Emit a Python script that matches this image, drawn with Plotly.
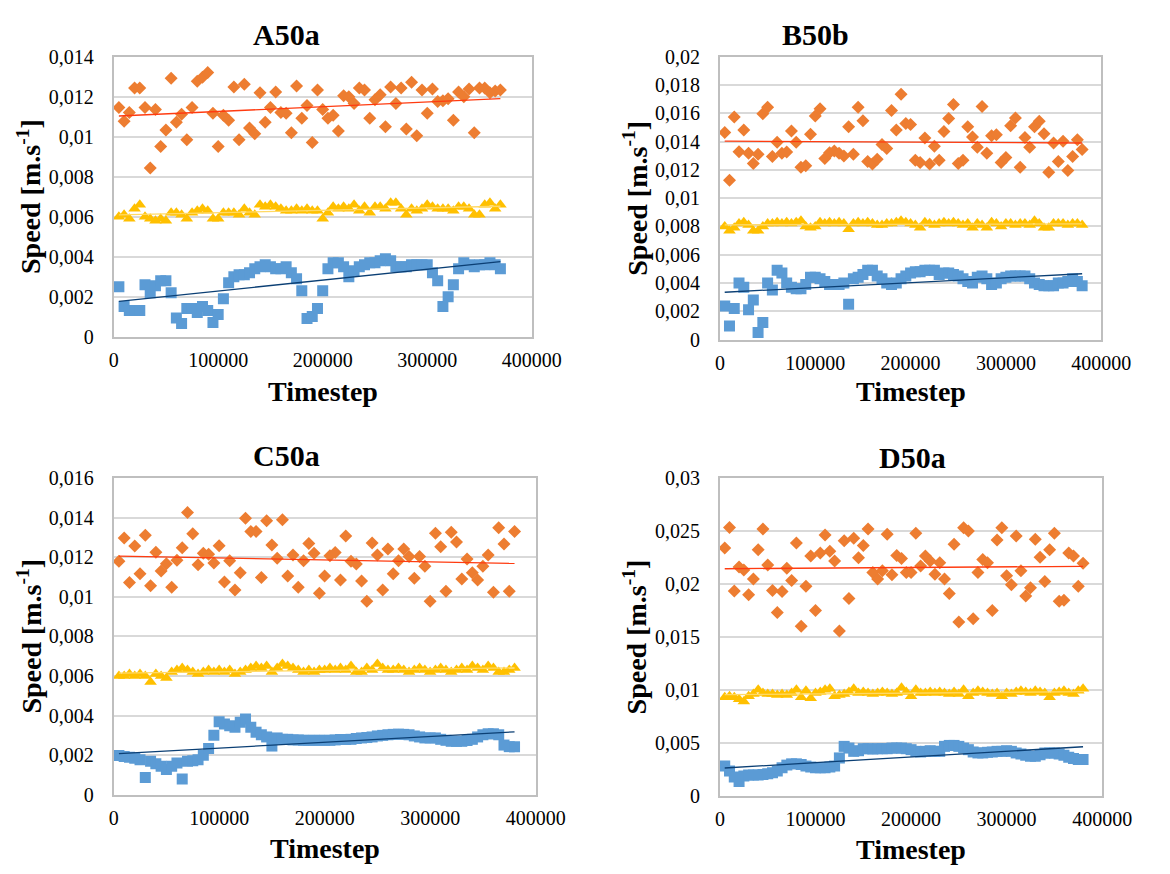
import numpy as np
import plotly.graph_objects as go

# ---------------- data ----------------
t_A = list(range(5000, 370001, 5000))
t_BCD = list(range(5000, 380001, 5000))

A_orange = [0.01146, 0.01078, 0.01122, 0.01244, 0.01244, 0.01146, 0.00844, 0.01137, 0.00951, 0.01034,
            0.01293, 0.01073, 0.01112, 0.00985, 0.01146, 0.01278, 0.01298, 0.01322, 0.01117, 0.00951,
            0.01107, 0.01083, 0.01249, 0.00985, 0.01263, 0.01044, 0.01015, 0.01220, 0.01073, 0.01146,
            0.01224, 0.01122, 0.01117, 0.01020, 0.01254, 0.01093, 0.01156, 0.00971, 0.01234, 0.01137,
            0.01093, 0.01107, 0.01029, 0.01205, 0.01200, 0.01166, 0.01244, 0.01234, 0.01093, 0.01185,
            0.01210, 0.01050, 0.01249, 0.01166, 0.01244, 0.01039, 0.01273, 0.01005, 0.01234, 0.01117,
            0.01239, 0.01176, 0.01180, 0.01190, 0.01083, 0.01224, 0.01200, 0.01239, 0.01020, 0.01244,
            0.01244, 0.01220, 0.01229, 0.01234]
A_yellow = [0.0060, 0.0061, 0.0059, 0.0064, 0.0066, 0.0060, 0.0059, 0.0058, 0.0059, 0.0058,
            0.0062, 0.0062, 0.0061, 0.0059, 0.0062, 0.0063, 0.0064, 0.0063, 0.0059, 0.0059,
            0.0062, 0.0062, 0.0062, 0.0061, 0.0064, 0.0062, 0.0061, 0.0066, 0.0065, 0.0066,
            0.0065, 0.0064, 0.0063, 0.0063, 0.0064, 0.0063, 0.0064, 0.0063, 0.0063, 0.0059,
            0.0062, 0.0065, 0.0064, 0.0065, 0.0064, 0.0066, 0.0063, 0.0065, 0.0062, 0.0065,
            0.0065, 0.0064, 0.0067, 0.0067, 0.0064, 0.0061, 0.0064, 0.0063, 0.0064, 0.0066,
            0.0065, 0.0064, 0.0064, 0.0064, 0.0063, 0.0065, 0.0065, 0.0064, 0.0061, 0.0061,
            0.0066, 0.0067, 0.0064, 0.0066]
A_blue = [0.0025, 0.0015, 0.0013, 0.0013, 0.0013, 0.0026, 0.0022, 0.00255, 0.0028, 0.0028,
          0.0022, 0.00093, 0.00065, 0.0014, 0.0014, 0.0012, 0.0015, 0.0013, 0.0007, 0.0011,
          0.0019, 0.0027, 0.0030, 0.0031, 0.0031, 0.0032, 0.0034, 0.0035, 0.0036, 0.0035,
          0.0034, 0.0034, 0.0035, 0.0032, 0.0029, 0.0023, 0.0009, 0.0010, 0.0014, 0.0023,
          0.0034, 0.0037, 0.0037, 0.0035, 0.0030, 0.0033, 0.0035, 0.0036, 0.0037, 0.0037,
          0.0038, 0.0039, 0.0038, 0.0035, 0.0035, 0.0035, 0.0036, 0.0036, 0.0036, 0.0036,
          0.0032, 0.0028, 0.0015, 0.0020, 0.0026, 0.0034, 0.0037, 0.0036, 0.0035, 0.0036,
          0.0036, 0.0037, 0.0036, 0.0034]

B_orange = [0.01464, 0.01126, 0.01575, 0.01329, 0.01483, 0.01317, 0.01246, 0.01310, 0.01598, 0.01644,
            0.01294, 0.01395, 0.01317, 0.01326, 0.01476, 0.01395, 0.01218, 0.01230, 0.01453, 0.01582,
            0.01632, 0.01280, 0.01322, 0.01333, 0.01317, 0.01299, 0.01506, 0.01310, 0.01644, 0.01547,
            0.01260, 0.01241, 0.01276, 0.01379, 0.01352, 0.01621, 0.01483, 0.01736, 0.01529, 0.01522,
            0.01269, 0.01253, 0.01425, 0.01241, 0.01368, 0.01269, 0.01471, 0.01563, 0.01662, 0.01246,
            0.01269, 0.01506, 0.01432, 0.01361, 0.01648, 0.01317, 0.01441, 0.01448, 0.01253, 0.01287,
            0.01513, 0.01568, 0.01218, 0.01430, 0.01361, 0.01506, 0.01545, 0.01455, 0.01184, 0.01391,
            0.01260, 0.01402, 0.01195, 0.01294, 0.01414, 0.01345]
B_yellow = [0.0080, 0.0077, 0.0079, 0.0082, 0.0083, 0.0081, 0.0077, 0.0077, 0.0080, 0.0082,
            0.0082, 0.0083, 0.0082, 0.0083, 0.0082, 0.0083, 0.0084, 0.0080, 0.0079, 0.0080,
            0.0083, 0.0082, 0.0083, 0.0082, 0.0083, 0.0082, 0.0078, 0.0082, 0.0083, 0.0082,
            0.0083, 0.0082, 0.0081, 0.0081, 0.0082, 0.0082, 0.0083, 0.0084, 0.0083, 0.0082,
            0.0081, 0.0079, 0.0083, 0.0082, 0.0081, 0.0082, 0.0083, 0.0082, 0.0083, 0.0082,
            0.0081, 0.0082, 0.0079, 0.0082, 0.0081, 0.0079, 0.0083, 0.0082, 0.0080, 0.0082,
            0.0082, 0.0081, 0.0082, 0.0082, 0.0081, 0.0084, 0.0082, 0.0079, 0.0079, 0.0082,
            0.0082, 0.0082, 0.0081, 0.0082, 0.0082, 0.0081]
B_blue = [0.00237, 0.00096, 0.0022, 0.0040, 0.0037, 0.0021, 0.0028, 0.0005, 0.0012, 0.0040,
          0.0035, 0.0049, 0.0047, 0.0040, 0.0037, 0.0036, 0.0036, 0.0039, 0.0044, 0.0044,
          0.0043, 0.0041, 0.0039, 0.0039, 0.0039, 0.0040, 0.0025, 0.0043, 0.0044, 0.0046,
          0.0049, 0.0049, 0.0045, 0.0043, 0.0040, 0.0039, 0.0040, 0.0043, 0.0045, 0.0047,
          0.0048, 0.0048, 0.0049, 0.0049, 0.0049, 0.0046, 0.0047, 0.0047, 0.0046, 0.0045,
          0.0043, 0.0041, 0.0040, 0.0044, 0.0045, 0.0043, 0.0039, 0.0040, 0.0043, 0.0044,
          0.0045, 0.0045, 0.0045, 0.0045, 0.0043, 0.0040, 0.0039, 0.0038, 0.0038, 0.0038,
          0.0040, 0.0040, 0.0041, 0.0043, 0.0041, 0.0038]

C_orange = [0.01179, 0.01297, 0.01072, 0.01256, 0.01116, 0.01310, 0.01056, 0.01225, 0.01130, 0.01167,
            0.01048, 0.01184, 0.01248, 0.01425, 0.01318, 0.01162, 0.01220, 0.01215, 0.01170, 0.01257,
            0.01075, 0.01182, 0.01034, 0.01121, 0.01397, 0.01330, 0.01330, 0.01097, 0.01384, 0.01261,
            0.01195, 0.01389, 0.01105, 0.01211, 0.01048, 0.01182, 0.01269, 0.01220, 0.01018, 0.01105,
            0.01207, 0.01223, 0.01085, 0.01307, 0.01179, 0.01166, 0.01080, 0.00977, 0.01272, 0.01211,
            0.01034, 0.01241, 0.01116, 0.01182, 0.01241, 0.01203, 0.01093, 0.01203, 0.01154, 0.00977,
            0.01321, 0.01252, 0.01028, 0.01326, 0.01277, 0.01089, 0.01190, 0.01121, 0.01085, 0.01154,
            0.01211, 0.01023, 0.01348, 0.01266, 0.01028, 0.01330]
C_yellow = [0.0060, 0.0060, 0.0061, 0.0060, 0.0061, 0.0060, 0.0057, 0.0061, 0.0060, 0.0059,
            0.0062, 0.0063, 0.0064, 0.0063, 0.0062, 0.0061, 0.0062, 0.0063, 0.0062, 0.0063,
            0.0062, 0.0063, 0.0061, 0.0062, 0.0063, 0.0064, 0.0065, 0.0064, 0.0065, 0.0062,
            0.0064, 0.0066, 0.0065, 0.0064, 0.0063, 0.0062, 0.0063, 0.0062, 0.0063, 0.0063,
            0.0064, 0.0063, 0.0064, 0.0063, 0.0065, 0.0062, 0.0062, 0.0064, 0.0063, 0.0066,
            0.0064, 0.0063, 0.0063, 0.0064, 0.0063, 0.0062, 0.0063, 0.0064, 0.0063, 0.0062,
            0.0063, 0.0064, 0.0063, 0.0062, 0.0063, 0.0064, 0.0063, 0.0065, 0.0064, 0.0063,
            0.0065, 0.0064, 0.0062, 0.0062, 0.0063, 0.0064]
C_blue = [0.00198, 0.00193, 0.0019, 0.00185, 0.00177, 0.00087, 0.00169, 0.00156, 0.00144, 0.00128,
          0.00144, 0.0016, 0.00079, 0.00169, 0.00172, 0.00177, 0.0020, 0.00234, 0.0030, 0.00369,
          0.00357, 0.00349, 0.00341, 0.00366, 0.00382, 0.00341, 0.00316, 0.00303, 0.00292, 0.00246,
          0.00287, 0.0028, 0.0028, 0.00277, 0.00277, 0.00275, 0.00275, 0.00275, 0.00275, 0.00275,
          0.00275, 0.00277, 0.00279, 0.00279, 0.0028, 0.00284, 0.00287, 0.00289, 0.00292, 0.00297,
          0.0030, 0.00303, 0.00305, 0.00306, 0.00305, 0.00303, 0.00297, 0.00292, 0.00287, 0.00287,
          0.00287, 0.0028, 0.00275, 0.0027, 0.0027, 0.0027, 0.00274, 0.0028, 0.00292, 0.00303,
          0.00308, 0.00308, 0.00303, 0.00251, 0.00243, 0.00243]

D_orange = [0.02338, 0.02532, 0.01932, 0.02160, 0.02132, 0.01898, 0.02046, 0.02323, 0.02517, 0.02178,
            0.01938, 0.01729, 0.01929, 0.02148, 0.02031, 0.02385, 0.01600, 0.01978, 0.02262, 0.01748,
            0.02292, 0.02462, 0.02308, 0.02215, 0.01554, 0.02406, 0.01862, 0.02431, 0.02246, 0.02363,
            0.02517, 0.02108, 0.02046, 0.02123, 0.02468, 0.02086, 0.02268, 0.02240, 0.02108, 0.02108,
            0.02477, 0.02169, 0.02262, 0.02215, 0.02092, 0.02200, 0.02046, 0.01908, 0.02375, 0.01640,
            0.02529, 0.02498, 0.01671, 0.02108, 0.02231, 0.02200, 0.01748, 0.02415, 0.02529, 0.02077,
            0.01991, 0.02452, 0.02123, 0.01886, 0.01963, 0.02422, 0.02252, 0.02022, 0.02323, 0.02477,
            0.01837, 0.01846, 0.02292, 0.02262, 0.01978, 0.02194]
D_yellow = [0.0093, 0.0094, 0.0093, 0.0091, 0.0089, 0.0094, 0.0096, 0.0100, 0.0097, 0.0096,
            0.0096, 0.0095, 0.0096, 0.0095, 0.0097, 0.0100, 0.0093, 0.0099, 0.0092, 0.0097,
            0.0098, 0.0100, 0.0101, 0.0094, 0.0095, 0.0096, 0.0098, 0.0101, 0.0097, 0.0098,
            0.0097, 0.0096, 0.0097, 0.0098, 0.0097, 0.0096, 0.0097, 0.0102, 0.0098, 0.0094,
            0.0100, 0.0097, 0.0097, 0.0098, 0.0097, 0.0098, 0.0097, 0.0096, 0.0098, 0.0096,
            0.0100, 0.0094, 0.0097, 0.0099, 0.0098, 0.0097, 0.0096, 0.0097, 0.0094, 0.0097,
            0.0096, 0.0098, 0.0099, 0.0098, 0.0097, 0.0099, 0.0098, 0.0097, 0.0093, 0.0097,
            0.0098, 0.0099, 0.0097, 0.0096, 0.0099, 0.0101]
D_blue = [0.0028, 0.00233, 0.00177, 0.00134, 0.00186, 0.00196, 0.00196, 0.00196, 0.002, 0.00208,
          0.00217, 0.00233, 0.00264, 0.00289, 0.00301, 0.00301, 0.00295, 0.0028, 0.00271, 0.00264,
          0.00264, 0.00264, 0.00271, 0.0028, 0.00357, 0.00466, 0.0045, 0.00419, 0.00425, 0.00444,
          0.00444, 0.00441, 0.00444, 0.00444, 0.00444, 0.0045, 0.0045, 0.0045, 0.00444, 0.00435,
          0.00419, 0.00413, 0.00419, 0.00425, 0.00419, 0.00419, 0.00466, 0.00475, 0.00475, 0.00466,
          0.0045, 0.00435, 0.00413, 0.00404, 0.00404, 0.0041, 0.00413, 0.00419, 0.00419, 0.00425,
          0.00419, 0.00404, 0.00394, 0.00382, 0.00373, 0.00373, 0.00388, 0.00404, 0.00404, 0.00404,
          0.00394, 0.00382, 0.00364, 0.00351, 0.00342, 0.00342]

panel_titles = ["A50a", "B50b", "C50a", "D50a"]
y_ranges = [0.014, 0.02, 0.016, 0.03]
y_dticks = [0.002, 0.002, 0.002, 0.005]
x_title = "Timestep"
y_title = "Speed [m.s<sup>-1</sup>]"

panels = [
    (t_A, A_orange, A_yellow, A_blue),
    (t_BCD, B_orange, B_yellow, B_blue),
    (t_BCD, C_orange, C_yellow, C_blue),
    (t_BCD, D_orange, D_yellow, D_blue),
]

# ---------------- style / layout ----------------
W, H = 1170, 874
FONT = "Liberation Serif"
ORANGE, YELLOW, BLUE = "#ED7D31", "#FFC000", "#5B9BD5"
TR_ORANGE, TR_YELLOW, TR_BLUE = "#FF3B10", "#FFD966", "#0B3F74"

# plot-area pixel boxes (left, right, top, bottom)
boxes = [(112, 543, 47, 334), (737, 1130, 47, 337), (112, 547, 479, 804), (737, 1131, 479, 805)]
title_pos = [(290, 24), (835, 24), (290, 456), (935, 458)]
ytitle_x = [25, 650, 25, 650]
xtitle_y = [390, 390, 859, 860]

fig = go.Figure()

for i, (t, o, y, b) in enumerate(panels):
    n = "" if i == 0 else str(i + 1)
    xa, ya = "x" + n, "y" + n
    tt = np.array(t, dtype=float)
    for vals, col, sym, size in ((b, BLUE, "square", 11), (y, YELLOW, "triangle-up", 11), (o, ORANGE, "diamond", 10)):
        fig.add_trace(go.Scatter(x=t, y=vals, mode="markers", xaxis=xa, yaxis=ya,
                                 marker=dict(symbol=sym, size=size, color=col, line=dict(width=0)),
                                 showlegend=False, hoverinfo="x+y"))
    for vals, col in ((y, TR_YELLOW), (b, TR_BLUE), (o, TR_ORANGE)):
        k, c = np.polyfit(tt, np.array(vals), 1)
        xs = [t[0], t[-1]]
        fig.add_trace(go.Scatter(x=xs, y=[k * xs[0] + c, k * xs[1] + c], mode="lines",
                                 xaxis=xa, yaxis=ya, line=dict(color=col, width=1.3),
                                 showlegend=False, hoverinfo="skip"))

    l, r, tp, bt = boxes[i]
    axis_common = dict(showline=True, mirror=True, linecolor="#BFBFBF", linewidth=2,
                       zeroline=False, ticks="outside", tickcolor="rgba(0,0,0,0)",
                       tickfont=dict(family=FONT, size=20, color="black"))
    fig.update_layout(**{
        "xaxis" + n: dict(domain=[l / W, r / W], anchor=ya, range=[0, 400000], dtick=100000,
                          tickformat="d", showgrid=False, ticklen=4, **axis_common),
        "yaxis" + n: dict(domain=[1 - bt / H, 1 - tp / H], anchor=xa, range=[0, y_ranges[i]],
                          dtick=y_dticks[i], showgrid=True, gridcolor="#D9D9D9", gridwidth=1.5,
                          ticklen=14, **axis_common),
    })
    tx, ty = title_pos[i]
    fig.add_annotation(x=tx / W, y=1 - ty / H, xref="paper", yref="paper", showarrow=False,
                       text="<b>" + panel_titles[i] + "</b>", xanchor="center", yanchor="middle",
                       font=dict(family=FONT, size=30, color="black"))
    fig.add_annotation(x=((l + r) / 2) / W, y=1 - xtitle_y[i] / H, xref="paper", yref="paper",
                       showarrow=False, text="<b>" + x_title + "</b>", xanchor="center", yanchor="middle",
                       font=dict(family=FONT, size=28, color="black"))
    fig.add_annotation(x=ytitle_x[i] / W, y=1 - ((tp + bt) / 2) / H, xref="paper", yref="paper",
                       showarrow=False, text="<b>" + y_title + "</b>", textangle=-90,
                       xanchor="center", yanchor="middle",
                       font=dict(family=FONT, size=28, color="black"))

fig.update_layout(width=W, height=H, autosize=False, margin=dict(l=0, r=0, t=0, b=0),
                  paper_bgcolor="white", plot_bgcolor="white", separators=",.",
                  font=dict(family=FONT, color="black"), showlegend=False)

fig.write_html("out.html", config={"displayModeBar": False},
               post_script="document.body.style.margin='0';")
